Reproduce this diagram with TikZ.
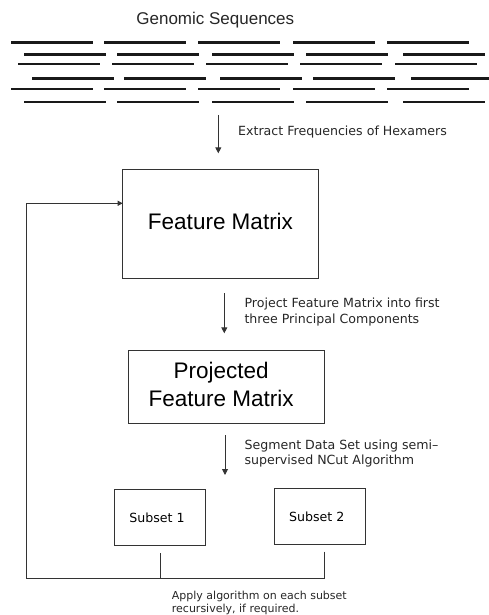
\documentclass[tikz,border=0pt]{standalone}
\usepackage{fontspec}
\setmainfont{Liberation Sans}
\newfontfamily\notefont{DejaVu Sans}
\usetikzlibrary{arrows.meta}
\begin{document}
\begin{tikzpicture}[x=1pt,y=-1pt,
  seq/.style={line width=2.6pt,black!90},
  conn/.style={line width=0.9pt,black!80},
  arr/.style={conn,-{Triangle[length=6pt,width=6pt]}},
  boxnode/.style={draw=black!80,line width=0.9pt,inner sep=0pt,align=center},
  bigtext/.style={font=\fontsize{22.5}{28.3}\selectfont},
  note/.style={font=\notefont\fontsize{12.6}{15.7}\selectfont,align=left,anchor=west,inner sep=0pt,text=black!85},
  subnote/.style={font=\notefont\fontsize{11}{13.3}\selectfont,align=left,anchor=west,inner sep=0pt,text=black!85}]
\useasboundingbox (0,0) rectangle (488,615);

% title
\node[font=\fontsize{17}{20}\selectfont,text=black!85] (title) at (215.3,20) {Genomic Sequences};

% rows of sequence fragments
\foreach \y/\xs in {42.3/{11,104,198,293,387},
                    54.3/{24,117,212,306,403},
                    64/{18,112,206,300,395},
                    78.3/{32,124,220,313,411},
                    89/{11,104,198,293,387},
                    102/{24,117,212,306,403}}{
  \foreach \x in \xs {\draw[seq] (\x,\y) -- ++(82,0);}
}

% boxes (box text sits a little above and left of the box centre)
\node[boxnode,bigtext,minimum width=195.6pt,minimum height=108.7pt] (fm) at (220.5,223.7)
  {\raisebox{4pt}{Feature Matrix}};
\node[boxnode,bigtext,minimum width=195.7pt,minimum height=73.4pt] (pfm) at (226.2,387)
  {\raisebox{5.5pt}{\hspace*{-10pt}\begin{tabular}{@{}c@{}}Projected\\Feature Matrix\end{tabular}}};
\node[boxnode,font=\notefont\fontsize{12.6}{15}\selectfont,minimum width=90.6pt,minimum height=56.4pt] (s1) at (160,517.5)
  {\hspace*{-6pt}Subset 1};
\node[boxnode,font=\notefont\fontsize{12.6}{15}\selectfont,minimum width=90.7pt,minimum height=56.4pt] (s2) at (319.7,516.5)
  {\hspace*{-6pt}Subset 2};

% arrows between stages
\coordinate (a1s) at (218.3,115);   \coordinate (a1e) at (218.3,153.3);
\coordinate (a2s) at (224.3,293.3); \coordinate (a2e) at (224.3,333.3);
\coordinate (a3s) at (225,435);     \coordinate (a3e) at (225,475);
\draw[arr] (a1s) -- (a1e);
\draw[arr] (a2s) -- (a2e);
\draw[arr] (a3s) -- (a3e);

% step labels
\node[note] (l1) at (238,132.3) {Extract Frequencies of Hexamers};
\node[note,anchor=north west] (l2) at (244.3,298) {Project Feature Matrix into first\\three Principal Components};
\node[note,anchor=north west] (l3) at (244.3,439.5) {Segment Data Set using semi–\\supervised NCut Algorithm};

% recursion loop back to the feature matrix
\coordinate (s1stub) at (160.3,553.3);
\coordinate (s2stub) at (324.3,551.7);
\coordinate (joinmid) at (160.3,578);
\coordinate (joinright) at (324.3,578);
\coordinate (loopcorner) at (26,578);
\coordinate (fmin) at (122.7,203.3);
\draw[conn] (s1stub) -- (joinmid);
\draw[conn] (s2stub) -- (joinright) -- (loopcorner);
\draw[conn,-{Triangle[length=5pt,width=5pt]}] (loopcorner) |- (fmin);

\node[subnote,anchor=north west] (l4) at (171.7,590.5) {Apply algorithm on each subset\\recursively, if required.};
\end{tikzpicture}
\end{document}
